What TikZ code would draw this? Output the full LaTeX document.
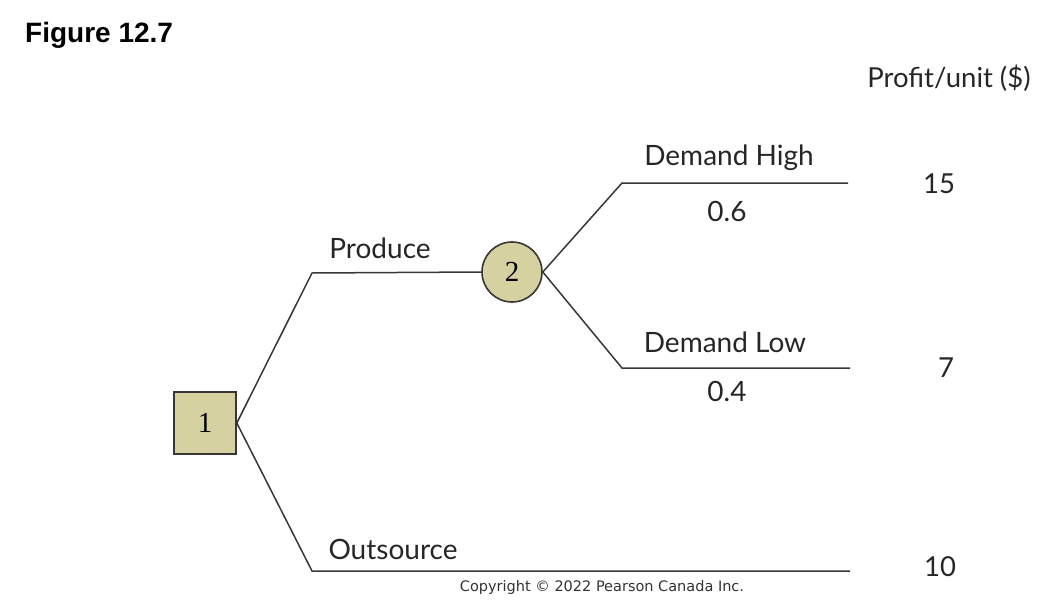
\documentclass[tikz,border=0pt]{standalone}
\usepackage{fontspec}
\setmainfont{Lato}
\newfontfamily\numfont{Liberation Serif}
\newfontfamily\headfont{Liberation Sans}
\newfontfamily\copyfont{DejaVu Sans}
\definecolor{nodefill}{RGB}{214,209,160}
\definecolor{linegray}{RGB}{55,55,55}
\tikzset{
  branch/.style={draw=linegray, line width=1.5pt},
  decision/.style={draw=linegray, line width=1.6pt, fill=nodefill, minimum width=62pt, minimum height=62pt, inner sep=0pt, font=\numfont\fontsize{29}{31}\selectfont},
  chance/.style={circle, draw=linegray, line width=1.6pt, fill=nodefill, minimum size=60pt, inner sep=0pt, font=\numfont\fontsize{29}{31}\selectfont},
  lbl/.style={font=\fontsize{28}{32}\selectfont, text=black!85, inner sep=0pt},
  val/.style={font=\fontsize{27.5}{32}\selectfont, text=black!85, inner sep=0pt}
}
\begin{document}
\begin{tikzpicture}[x=1pt,y=-1pt]
\useasboundingbox (0,0) rectangle (1063,605);
\node[anchor=west, inner sep=0pt, font=\headfont\bfseries\fontsize{28}{30}\selectfont] (title) at (25,35) {Figure 12.7};
\node[val] (hdr) at (949,78) {Profit/unit (\$)};
\node[decision] (d1) at (205,423) {1};
\node[chance] (c2) at (512,272) {2};
\coordinate (pu) at (312,273);
\coordinate (ou) at (312,571);
\coordinate (oe) at (850,571);
\coordinate (hu) at (622,183);
\coordinate (he) at (848,183);
\coordinate (lu) at (622,368);
\coordinate (le) at (850,368);
\draw[branch] (d1.east) -- (pu) -- (c2.west);
\draw[branch] (d1.east) -- (ou) -- (oe);
\draw[branch] (c2.east) -- (hu) -- (he);
\draw[branch] (c2.east) -- (lu) -- (le);
\node[lbl] (produce) at (380,248) {Produce};
\node[lbl] (outsource) at (393,549) {Outsource};
\node[lbl] (dhigh) at (729,158) {Demand High};
\node[lbl] (phigh) at (727,211) {0.6};
\node[lbl] (dlow) at (725,342) {Demand Low};
\node[lbl] (plow) at (727,391) {0.4};
\node[val] (v15) at (939,184) {15};
\node[val] (v7) at (946,368) {7};
\node[val] (v10) at (940,567) {10};
\node[inner sep=0pt, font=\copyfont\fontsize{14.5}{16}\selectfont, text=black!80] (copy) at (602,587) {Copyright \textcopyright{} 2022 Pearson Canada Inc.};
\end{tikzpicture}
\end{document}
